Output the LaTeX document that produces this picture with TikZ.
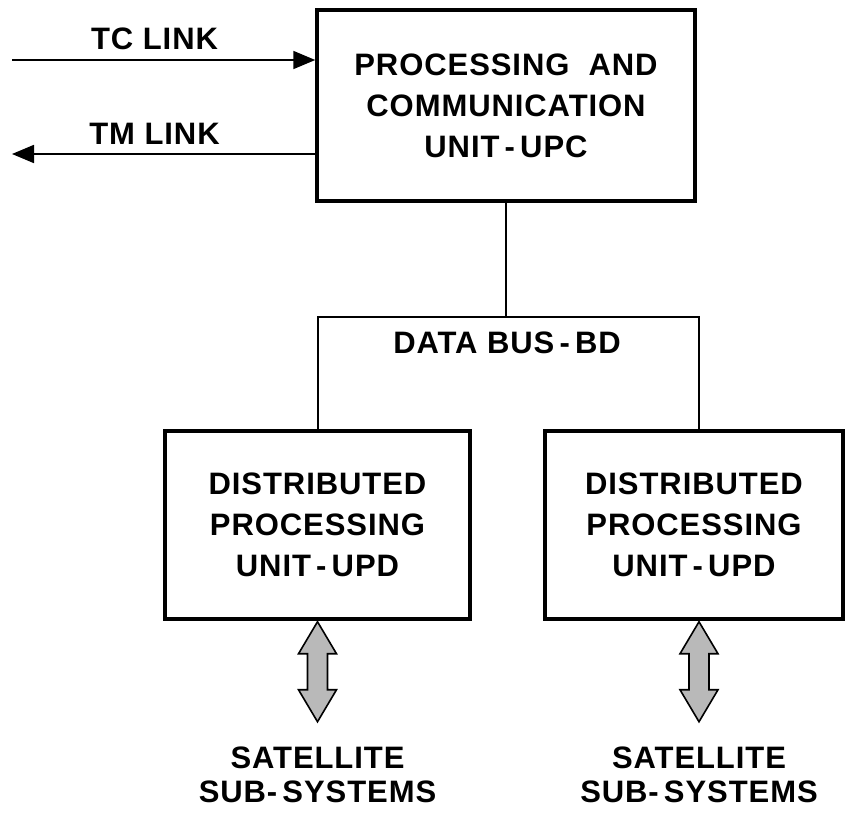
\documentclass[tikz,border=0pt]{standalone}
\usepackage{fontspec}
\setmainfont{Liberation Sans}[LetterSpace=3]
\usetikzlibrary{positioning, arrows.meta}

\begin{document}
\begin{tikzpicture}[x=1pt, y=-1pt,
    every node/.style = {align=center, font=\fontsize{31}{41}\selectfont\bfseries},
    unitbox/.style = {draw, line width=3.5pt, rectangle, inner sep=0pt},
    link/.style = {line width=1.8pt, -{Triangle[length=22pt, width=18pt]}},
    busline/.style = {line width=1.8pt},
    dblarrow/.style = {draw, line width=1.6pt, fill=gray!55, line join=miter},
    satlabel/.style = {font=\fontsize{31}{34}\selectfont\bfseries, inner sep=0pt}]
    \useasboundingbox (0,0) rectangle (846,813);
    \node[unitbox, minimum width=378pt, minimum height=191pt] (upc) at (506,105.5)
      {PROCESSING\ \ AND\\COMMUNICATION\\UNIT\,-\,UPC};
    \node[unitbox, minimum width=305pt, minimum height=188pt] (upd1) at (317.5,525)
      {DISTRIBUTED\\PROCESSING\\UNIT\,-\,UPD};
    \node[unitbox, minimum width=298pt, minimum height=188pt] (upd2) at (694,525)
      {DISTRIBUTED\\PROCESSING\\UNIT\,-\,UPD};
    \coordinate (tcin) at (12,60);
    \coordinate (tmout) at (12,154);
    \coordinate (busL) at (318,317);
    \coordinate (busR) at (699,317);
    \node (bus) at (507,343) {DATA BUS\,-\,BD};
    \draw[link] (tcin) -- node[pos=0.47, above=9pt, inner sep=0pt] (tc) {TC LINK} (upc.west |- tcin);
    \draw[link] (upc.west |- tmout) -- node[pos=0.53, above=9pt, inner sep=0pt] (tm) {TM LINK} (tmout);
    \draw[busline] (upc.south) -- (upc.south |- busL);
    \draw[busline] (busL |- upd1.north) |- (busR) -- (busR |- upd2.north);
    \coordinate (tip1) at ([yshift=-1pt]upd1.south);
    \coordinate (tip2) at ([yshift=-1pt]upd2.south -| busR);
    \foreach \t in {tip1, tip2}
      \draw[dblarrow] (\t) -- ++(19,32) -- ++(-9,0) -- ++(0,36) -- ++(9,0)
        -- ++(-19,32) coordinate (\t foot) -- ++(-19,-32) -- ++(9,0) -- ++(0,-36) -- ++(-9,0) -- cycle;
    \node[satlabel, below=25pt of tip1foot] (sat1) {SATELLITE\\SUB-\,SYSTEMS};
    \node[satlabel, below=25pt of tip2foot] (sat2) {SATELLITE\\SUB-\,SYSTEMS};
\end{tikzpicture}
\end{document}
